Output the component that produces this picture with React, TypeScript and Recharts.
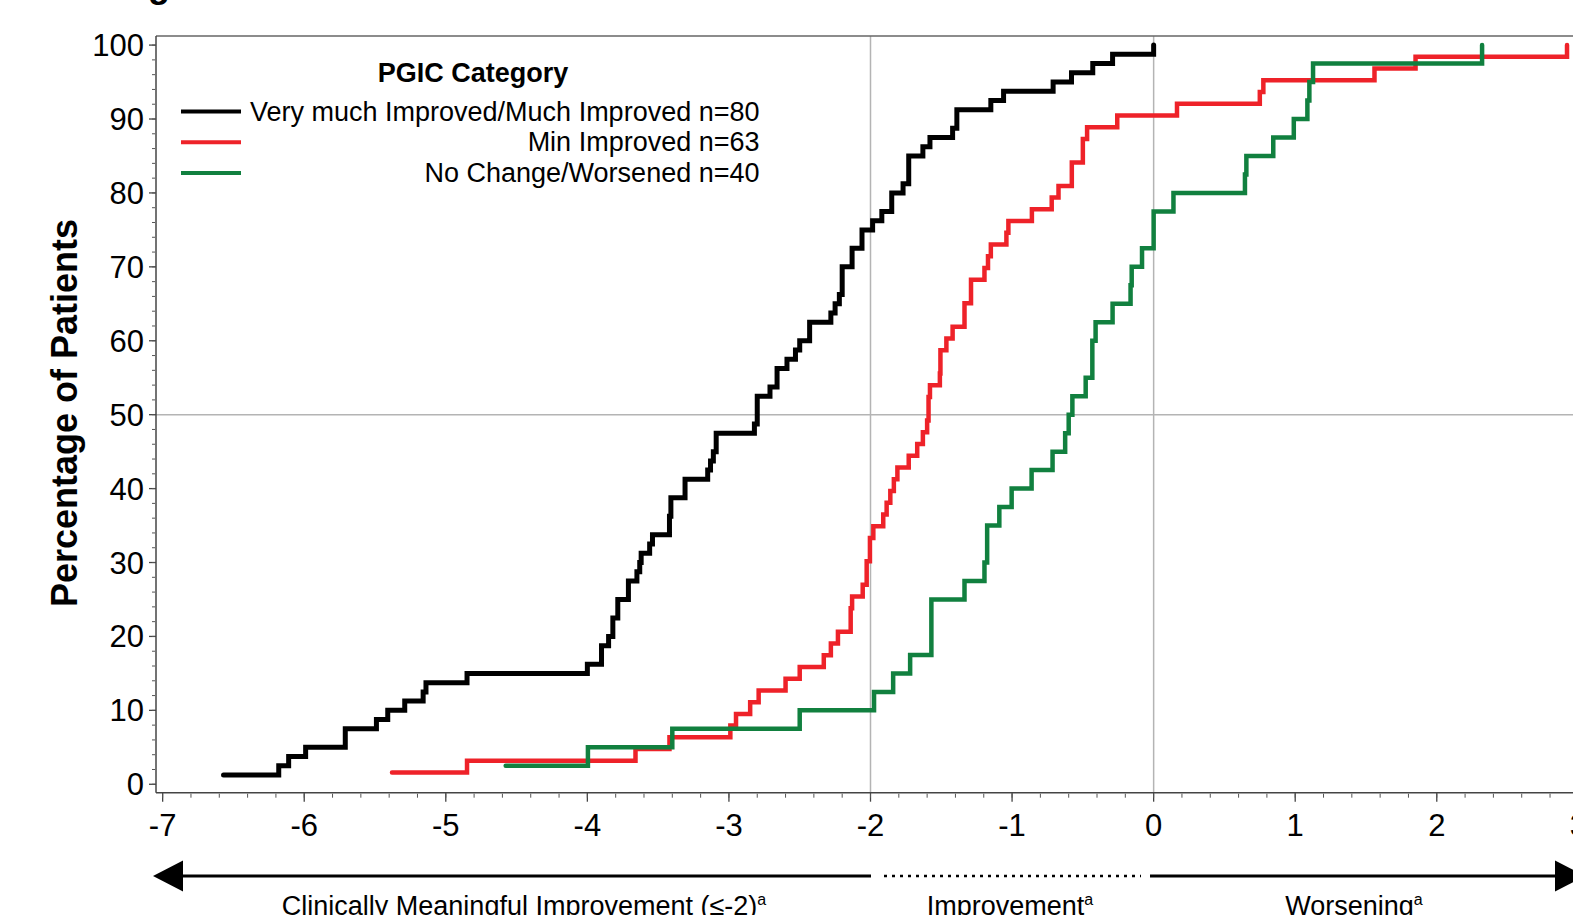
import React from 'react';
import { LineChart, Line, XAxis, YAxis, ReferenceLine } from 'recharts';

// ---- Data ----
const blackX = [-6.57, -6.18, -6.11, -5.99, -5.71, -5.49, -5.41, -5.29, -5.16, -5.14, -4.85, -4.0, -3.9, -3.85, -3.82, -3.785, -3.71, -3.65, -3.63, -3.62, -3.56, -3.54, -3.42, -3.41, -3.31, -3.15, -3.13, -3.11, -3.09, -2.82, -2.8, -2.71, -2.66, -2.59, -2.53, -2.5, -2.43, -2.28, -2.25, -2.22, -2.2, -2.13, -2.06, -1.985, -1.92, -1.85, -1.77, -1.73, -1.63, -1.58, -1.42, -1.39, -1.15, -1.06, -0.71, -0.58, -0.43, -0.29, 0.0];
const blackY = [1.25, 2.5, 3.75, 5.0, 7.5, 8.75, 10.0, 11.25, 12.5, 13.75, 15.0, 16.25, 18.75, 20.0, 22.5, 25.0, 27.5, 28.75, 30.0, 31.25, 32.5, 33.75, 36.25, 38.75, 41.25, 42.5, 43.75, 45.0, 47.5, 48.75, 52.5, 53.75, 56.25, 57.5, 58.75, 60.0, 62.5, 63.75, 65.0, 66.25, 70.0, 72.5, 75.0, 76.25, 77.5, 80.0, 81.25, 85.0, 86.25, 87.5, 88.75, 91.25, 92.5, 93.75, 95.0, 96.25, 97.5, 98.75, 100];

const redX = [-5.38, -4.85, -3.66, -3.42, -2.99, -2.95, -2.85, -2.79, -2.6, -2.5, -2.33, -2.28, -2.23, -2.14, -2.13, -2.055, -2.027, -2.004, -1.98, -1.91, -1.886, -1.86, -1.835, -1.81, -1.73, -1.67, -1.63, -1.6, -1.59, -1.58, -1.51, -1.506, -1.464, -1.42, -1.336, -1.29, -1.195, -1.17, -1.15, -1.04, -1.026, -0.86, -0.72, -0.672, -0.578, -0.5, -0.47, -0.257, 0.165, 0.75, 0.775, 1.56, 1.85, 2.92];
const redY = [1.59, 3.17, 4.76, 6.35, 7.94, 9.52, 11.11, 12.7, 14.29, 15.87, 17.46, 19.05, 20.63, 23.81, 25.4, 26.98, 30.16, 33.33, 34.92, 36.51, 38.1, 39.68, 41.27, 42.86, 44.44, 46.03, 47.62, 49.21, 52.38, 53.97, 55.56, 58.73, 60.32, 61.9, 65.08, 68.25, 69.84, 71.43, 73.02, 74.6, 76.19, 77.78, 79.37, 80.95, 84.13, 87.3, 88.89, 90.48, 92.06, 93.65, 95.24, 96.83, 98.41, 100];

const greenX = [-4.577, -3.996, -3.4, -2.5, -1.975, -1.84, -1.72, -1.57, -1.336, -1.195, -1.176, -1.09, -1.003, -0.862, -0.714, -0.625, -0.6, -0.574, -0.48, -0.433, -0.41, -0.29, -0.163, -0.155, -0.082, 0.0, 0.14, 0.645, 0.655, 0.845, 0.99, 1.086, 1.1, 1.126, 2.32];
const greenY = [2.5, 5.0, 7.5, 10.0, 12.5, 15.0, 17.5, 25.0, 27.5, 30.0, 35.0, 37.5, 40.0, 42.5, 45.0, 47.5, 50.0, 52.5, 55.0, 60.0, 62.5, 65.0, 67.5, 70.0, 72.5, 77.5, 80.0, 82.5, 85.0, 87.5, 90.0, 92.5, 95.0, 97.5, 100];

const seriesNames = ['Very much Improved/Much Improved n=80', 'Min Improved n=63', 'No Change/Worsened n=40'];
const seriesColors = ['#000000', '#ee2229', '#11803f'];
const legendTitle = 'PGIC Category';
const yAxisTitle = 'Percentage of Patients';
const bottomLabels = ['Clinically Meaningful Improvement (\u2264-2)', 'Improvement', 'Worsening'];

const xMajorTicks = [-7, -6, -5, -4, -3, -2, -1, 0, 1, 2, 3];
const yMajorTicks = [0, 10, 20, 30, 40, 50, 60, 70, 80, 90, 100];
const xMinorTicks: number[] = [];
for (let i = -35; i <= 15; i++) xMinorTicks.push(i / 5);
const yMinorTicks: number[] = [];
for (let i = 0; i <= 50; i++) yMinorTicks.push(i * 2);
const refX = [-2, 0];
const refY = [50];

const X_DOMAIN: [number, number] = [-7.047, 3.047];
const Y_DOMAIN: [number, number] = [-1.14, 101.23];

const toPoints = (xs: number[], ys: number[]) => xs.map((x, i) => ({ x, y: ys[i] }));
const blackData = toPoints(blackX, blackY);
const redData = toPoints(redX, redY);
const greenData = toPoints(greenX, greenY);

const FONT = '"Liberation Sans", Arial, Helvetica, sans-serif';
const noTick = () => <g />;

export default function App() {
  const tickStyle = { fontSize: 31, fill: '#000', fontFamily: FONT };
  return (
    <div style={{ position: 'absolute', left: 0, top: 0, width: 1573, height: 915, overflow: 'hidden', background: '#fff' }}>
      <LineChart width={1600} height={915} margin={{ top: 35, right: 15, bottom: 120.3, left: 154 }} style={{ fontFamily: FONT }}>
        <XAxis xAxisId="top" orientation="top" type="number" dataKey="x" domain={X_DOMAIN} allowDataOverflow height={1}
          tick={noTick} tickLine={false} axisLine={{ stroke: '#666', strokeWidth: 1.5 }} />
        <XAxis xAxisId="main" type="number" dataKey="x" domain={X_DOMAIN} allowDataOverflow height={1}
          ticks={xMajorTicks} interval={0} tickSize={9} tickMargin={12} tick={tickStyle}
          axisLine={{ stroke: '#444', strokeWidth: 1.5 }} tickLine={{ stroke: '#444', strokeWidth: 1.3 }} />
        <XAxis xAxisId="minor" type="number" dataKey="x" domain={X_DOMAIN} allowDataOverflow height={1}
          ticks={xMinorTicks} interval={0} tickSize={4} tick={noTick} axisLine={false} tickLine={{ stroke: '#555', strokeWidth: 1 }} />
        <YAxis yAxisId="main" type="number" dataKey="y" domain={Y_DOMAIN} allowDataOverflow width={1}
          ticks={yMajorTicks} interval={0} tickSize={7} tickMargin={5} tick={tickStyle}
          axisLine={{ stroke: '#444', strokeWidth: 1.5 }} tickLine={{ stroke: '#444', strokeWidth: 1.3 }} />
        <YAxis yAxisId="minor" type="number" dataKey="y" domain={Y_DOMAIN} allowDataOverflow width={1}
          ticks={yMinorTicks} interval={0} tickSize={3} tick={noTick} axisLine={false} tickLine={{ stroke: '#555', strokeWidth: 1 }} />
        {refX.map((v) => (
          <ReferenceLine key={'rx' + v} xAxisId="main" yAxisId="main" x={v} stroke="#b4b4b4" strokeWidth={1.5} />
        ))}
        {refY.map((v) => (
          <ReferenceLine key={'ry' + v} xAxisId="main" yAxisId="main" y={v} stroke="#b4b4b4" strokeWidth={1.5} />
        ))}
        <Line xAxisId="main" yAxisId="main" data={redData} dataKey="y" type="stepAfter" stroke={seriesColors[1]} strokeWidth={4.5}
          dot={false} activeDot={false} isAnimationActive={false} strokeLinecap="round" strokeLinejoin="miter" />
        <Line xAxisId="main" yAxisId="main" data={greenData} dataKey="y" type="stepAfter" stroke={seriesColors[2]} strokeWidth={4.5}
          dot={false} activeDot={false} isAnimationActive={false} strokeLinecap="round" strokeLinejoin="miter" />
        <Line xAxisId="main" yAxisId="main" data={blackData} dataKey="y" type="stepAfter" stroke={seriesColors[0]} strokeWidth={5}
          dot={false} activeDot={false} isAnimationActive={false} strokeLinecap="round" strokeLinejoin="miter" />
      </LineChart>
      <svg width={1573} height={915} style={{ position: 'absolute', left: 0, top: 0, pointerEvents: 'none', fontFamily: FONT }}>
        <text x={148} y={-3.5} fontSize={36} fontWeight="bold" fill="#000">g</text>
        <text x={77} y={413} fontSize={36} fontWeight="bold" textAnchor="middle" transform="rotate(-90 77 413)" fill="#000">{yAxisTitle}</text>
        <text x={473} y={81.5} fontSize={27} fontWeight="bold" textAnchor="middle" fill="#000">{legendTitle}</text>
        {seriesNames.map((n, i) => (
          <g key={n}>
            <line x1={181} x2={241} y1={111.5 + i * 30.7} y2={111.5 + i * 30.7} stroke={seriesColors[i]} strokeWidth={4} />
            <text x={759.5} y={120.5 + i * 30.7} fontSize={27} textAnchor="end" fill="#000">{n}</text>
          </g>
        ))}
        <polygon points="153,876 183,860.5 183,891.5" fill="#000" />
        <line x1={182} x2={871} y1={876} y2={876} stroke="#000" strokeWidth={3} />
        <line x1={884} x2={1141} y1={876} y2={876} stroke="#000" strokeWidth={2.5} strokeDasharray="3 5" />
        <line x1={1150} x2={1556} y1={876} y2={876} stroke="#000" strokeWidth={3} />
        <polygon points="1585,876 1555,860.5 1555,891.5" fill="#000" />
        <text x={524} y={915} fontSize={27} textAnchor="middle" fill="#000">{bottomLabels[0]}<tspan fontSize={16} dy={-10}>a</tspan></text>
        <text x={1010} y={915} fontSize={27} textAnchor="middle" fill="#000">{bottomLabels[1]}<tspan fontSize={16} dy={-10}>a</tspan></text>
        <text x={1354} y={915} fontSize={27} textAnchor="middle" fill="#000">{bottomLabels[2]}<tspan fontSize={16} dy={-10}>a</tspan></text>
      </svg>
    </div>
  );
}
